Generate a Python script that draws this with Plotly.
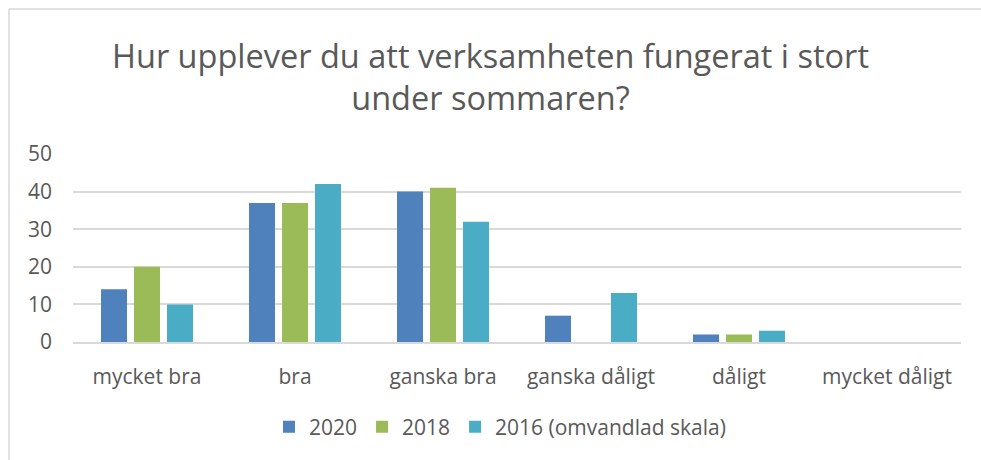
import plotly.graph_objects as go

categories = ["mycket bra", "bra", "ganska bra", "ganska dåligt", "dåligt", "mycket dåligt"]
series_names = ["2020", "2018", "2016 (omvandlad skala)"]
values_2020 = [14, 37, 40, 7, 2, 0]
values_2018 = [20, 37, 41, 0, 2, 0]
values_2016 = [10, 42, 32, 13, 3, 0]
colors = ["#4F81BD", "#9BBB59", "#4BACC6"]
y_ticks = [0, 10, 20, 30, 40, 50]

FONT = "'Open Sans', Lato, sans-serif"
TXT = "#595959"

fig = go.Figure()
for name, vals, col in zip(series_names, [values_2020, values_2018, values_2016], colors):
    fig.add_trace(go.Bar(x=categories, y=vals, name=name, marker=dict(color=col, line=dict(width=0))))

L, R, T, B = 73, 20, 154, 118
W, H = 981, 460
pw, ph = W - L - R, H - T - B

def px(x):
    return (x - L) / pw

def py(y):
    return (H - B - y) / ph

fig.update_layout(
    width=W, height=H,
    margin=dict(l=L, r=R, t=T, b=B),
    paper_bgcolor="white", plot_bgcolor="white",
    barmode="group", bargap=0.331, bargroupgap=0.212,
    font=dict(family=FONT, color=TXT, size=21),
    title=dict(
        text="Hur upplever du att verksamheten fungerat i stort<br>under sommaren?",
        x=0.5, xanchor="center", y=1 - 68 / H, yanchor="middle",
        font=dict(family=FONT, size=32.5, color=TXT),
    ),
    xaxis=dict(showgrid=False, showline=True, linecolor="#D9D9D9", linewidth=1.5,
               tickfont=dict(size=21, color=TXT), ticks="", ticklabelstandoff=15),
    yaxis=dict(range=[0, 50], tickvals=y_ticks, showgrid=True, gridcolor="#D9D9D9",
               gridwidth=1.5, zeroline=False, tickfont=dict(size=21, color=TXT),
               ticks="", ticklabelstandoff=20, showline=False),
    legend=dict(orientation="h", x=px(500), xanchor="center", y=py(427), yanchor="middle",
                font=dict(size=21, color=TXT), itemwidth=30, traceorder="normal",
                tracegroupgap=0),
    showlegend=True,
    shapes=[
        dict(type="line", xref="paper", yref="paper", x0=px(9), x1=px(981), y0=py(9), y1=py(9),
             line=dict(color="#D9D9D9", width=1.5)),
        dict(type="line", xref="paper", yref="paper", x0=px(9), x1=px(9), y0=py(9), y1=py(460),
             line=dict(color="#D9D9D9", width=1.5)),
    ],
)

fig.write_html("out.html", config={"displayModeBar": False},
               post_script="document.body.style.margin='0';document.body.style.overflow='hidden';")
